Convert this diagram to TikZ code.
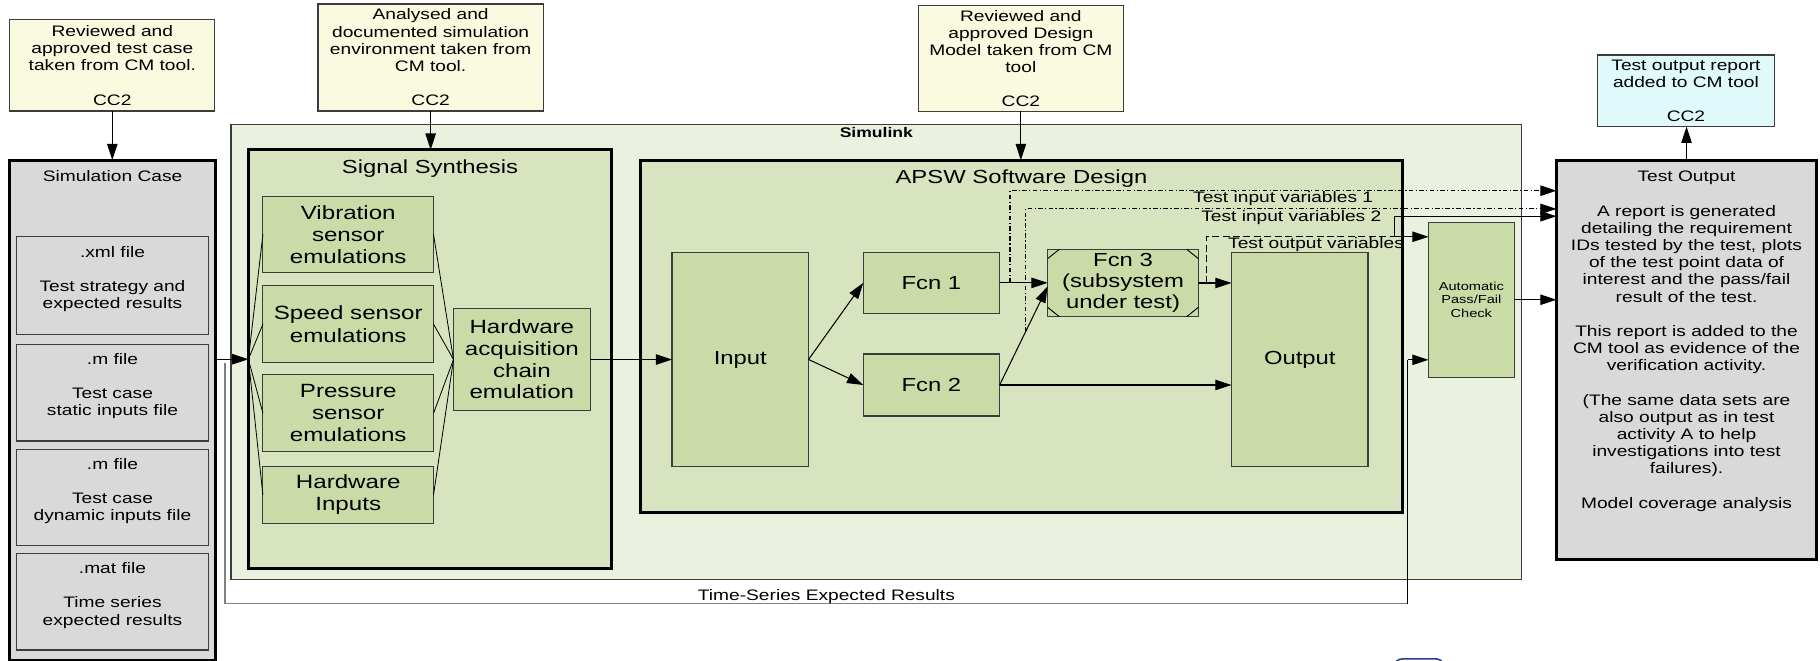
\documentclass[tikz,border=0pt]{standalone}
\usepackage{fontspec}
\setmainfont[FakeStretch=1.26]{Liberation Sans}
\usetikzlibrary{arrows.meta,calc}
\definecolor{cyel}{RGB}{250,250,224}
\definecolor{ccyan}{RGB}{224,250,252}
\definecolor{cgrey}{RGB}{217,217,217}
\definecolor{csim}{RGB}{234,241,222}
\definecolor{cgrp}{RGB}{216,228,192}
\definecolor{cblk}{RGB}{203,219,168}
\definecolor{cedge}{RGB}{60,60,60}
\definecolor{cts}{RGB}{128,128,128}
\definecolor{cblue}{RGB}{40,60,140}
\begin{document}
\begin{tikzpicture}[x=1pt,y=-1pt,
  every node/.style={inner sep=0pt,outer sep=0pt,align=center,text=black},
  txt/.style={font=\fontsize{13.1}{14.8}\selectfont},
  btxt/.style={font=\fontsize{16.3}{19}\selectfont},
  stxt/.style={font=\fontsize{16.5}{19.2}\selectfont},
  ftxt/.style={font=\fontsize{16.3}{18.2}\selectfont},
  tinytxt/.style={font=\fontsize{10}{11.3}\selectfont},
  simtxt/.style={font=\fontsize{12}{14}\selectfont\bfseries},
  sz/.style 2 args={minimum width=#1pt,minimum height=#2pt},
  thinbox/.style={draw=cedge,line width=1pt},
  thickbox/.style={draw=black,line width=2.6pt},
  topbox/.style={thinbox,fill=cyel,txt},
  cmbox/.style={thinbox,fill=ccyan,txt},
  greybox/.style={thickbox,fill=cgrey},
  filebox/.style={thinbox,fill=cgrey},
  simbox/.style={draw=cedge,line width=1pt,fill=csim},
  grpbox/.style={thickbox,fill=cgrp},
  blk/.style={thinbox,fill=cblk},
  conn/.style={draw=black,line width=0.9pt},
  arr/.style={conn,-{Triangle[length=14pt,width=9pt]}},
  dashdot/.style={line width=0.9pt,dash pattern=on 4pt off 2pt on 1pt off 2pt},
  dashln/.style={line width=0.9pt,dash pattern=on 6pt off 3pt},
  tsline/.style={draw=cts,line width=1.3pt},
  cornerln/.style={draw=black,line width=0.8pt},
]
\useasboundingbox (0,0) rectangle (1568,569);

% ---------- top boxes ----------
\node[topbox,sz={176.5}{79}] (boxA) at (96.75,56.2)
  {Reviewed and\\approved test case\\taken from CM tool.\\ \\CC2};
\node[topbox,sz={194}{92.3}] (boxB) at (371,49.55)
  {Analysed and\\documented simulation\\environment taken from\\CM tool.\\ \\CC2};
\node[topbox,sz={177}{91}] (boxC) at (879.5,50.5)
  {Reviewed and\\approved Design\\Model taken from CM\\tool\\ \\CC2};
\node[cmbox,sz={153}{61.8}] (boxD) at (1452.5,78.3)
  {Test output report\\added to CM tool\\ \\CC2};

% ---------- simulation case ----------
\node[greybox,sz={177.2}{430.7}] (simcase) at (97.1,353.35) {};
\node[txt] (simcaset) at (97,152) {Simulation Case};
\node[filebox,sz={165.2}{84}] (xml) at (96.9,246) {};
\node[txt] (xmlt) at ($(xml.center)+(0,-5.5)$) {.xml file\\ \\Test strategy and\\expected results};
\node[filebox,sz={165.2}{83.5}] (mstat) at (96.9,338.25) {};
\node[txt] (mstatt) at ($(mstat.center)+(0,-5.5)$) {.m file\\ \\Test case\\static inputs file};
\node[filebox,sz={165.2}{83}] (mdyn) at (96.9,428.5) {};
\node[txt] (mdynt) at ($(mdyn.center)+(0,-5.5)$) {.m file\\ \\Test case\\dynamic inputs file};
\node[filebox,sz={165.2}{83}] (mat) at (96.9,518.5) {};
\node[txt] (matt) at ($(mat.center)+(0,-5.5)$) {.mat file\\ \\Time series\\expected results};

% ---------- simulink ----------
\node[simbox,sz={1112}{392}] (simulink) at (755,303) {};
\node[simtxt] (simt) at (755,114.5) {Simulink};

% signal synthesis
\node[grpbox,sz={313}{361}] (sigsyn) at (370.5,309.5) {};
\node[btxt] (sigsynt) at (370.5,145) {Signal Synthesis};
\node[blk,stxt,sz={147}{66}] (vib) at (300,202) {Vibration\\sensor\\emulations};
\node[blk,stxt,sz={147}{66.5}] (speed) at (300,279.25) {Speed sensor\\emulations};
\node[blk,stxt,sz={147}{66}] (press) at (300,356) {Pressure\\sensor\\emulations};
\node[blk,stxt,sz={147}{48.7}] (hwin) at (300,426.35) {Hardware\\Inputs};
\node[blk,font=\fontsize{16.5}{18.7}\selectfont,sz={117.8}{88.1}] (hwacq) at (449.6,309.75)
  {Hardware\\acquisition\\chain\\emulation};

% APSW
\node[grpbox,sz={656}{303.7}] (apsw) at (880,289.85) {};
\node[btxt] (apswt) at (880,153.5) {APSW Software Design};
\node[blk,btxt,sz={117.6}{184.6}] (input) at (637.8,309.7) {Input};
\node[blk,btxt,sz={117.5}{52.6}] (fcn1) at (802.45,243.7) {Fcn 1};
\node[blk,btxt,sz={117.5}{53.4}] (fcn2) at (802.45,331.7) {Fcn 2};
\node[blk,ftxt,sz={129.8}{58}] (fcn3) at (967.5,243.8) {Fcn 3\\(subsystem\\under test)};
\node[blk,btxt,sz={117.6}{184.6}] (output) at (1119.8,309.7) {Output};
\draw[cornerln] ($(fcn3.north west)+(0,8)$) -- ($(fcn3.north west)+(10,0)$);
\draw[cornerln] ($(fcn3.north east)+(0,8)$) -- ($(fcn3.north east)+(-10,0)$);
\draw[cornerln] ($(fcn3.south west)+(0,-8)$) -- ($(fcn3.south west)+(10,0)$);
\draw[cornerln] ($(fcn3.south east)+(0,-8)$) -- ($(fcn3.south east)+(-10,0)$);

% pass/fail
\node[blk,tinytxt,sz={73.8}{133.3}] (passfail) at (1267.6,258.25) {Automatic\\Pass/Fail\\Check};

% test output
\node[greybox,sz={224}{344}] (testout) at (1453,310) {};
\node[txt] (testoutt) at (1453,294)
  {Test Output\\ \\A report is generated\\detailing the requirement\\IDs tested by the test, plots\\of the test point data of\\interest and the pass/fail\\result of the test.\\ \\This report is added to the\\CM tool as evidence of the\\verification activity.\\ \\(The same data sets are\\also output as in test\\activity A to help\\investigations into test\\failures).\\ \\Model coverage analysis};

% ---------- connectors ----------
\draw[arr] (boxA.south) -- (boxA.south |- simcase.north);
\draw[arr] (boxB.south) -- (boxB.south |- sigsyn.north);
\draw[arr] (boxC.south) -- (boxC.south |- apsw.north);
\draw[arr] (testout.north) -- (testout.north |- boxD.south);

\draw[arr] (simcase.east |- sigsyn.west) -- (sigsyn.west);
\foreach \n in {vib,speed,press,hwin}{
  \draw[conn,line width=0.7pt] (sigsyn.west) -- (\n.west);
  \draw[conn,line width=0.7pt] (\n.east) -- (hwacq.west);
}
\draw[arr] (hwacq.east) -- (hwacq.east -| input.west);
\draw[arr] (input.east) -- (fcn1.west);
\draw[arr] (input.east) -- (fcn2.west);
\draw[arr] (fcn1.east) -- coordinate[pos=0.216] (b1) (fcn1.east -| fcn3.west);
\draw[arr] (fcn2.east) -- coordinate[pos=0.537] (b2) ($(fcn3.west)+(0,3)$);
\draw[arr] (fcn3.east) -- coordinate[pos=0.233] (b3) (fcn3.east -| output.west);
\draw[arr] (fcn2.east) -- (fcn2.east -| output.west);
\draw[arr] (passfail.east) -- (passfail.east -| testout.west);

% test variables
\coordinate (v1) at (1300,164.3);
\coordinate (v2) at (1300,180);
\coordinate (cj) at (1201,204);
\coordinate (cu) at (1201,186.3);
\draw[dashdot,-{Triangle[length=14pt,width=9pt]}] (b1) |- (testout.west |- v1);
\draw[dashdot,-{Triangle[length=14pt,width=9pt]}] (b2) |- (testout.west |- v2);
\draw[dashln] (b3) |- (cj);
\draw[arr] (cj) -- (cj -| passfail.west);
\draw[arr] (cj) -- (cu) -- (cu -| testout.west);
\node[txt,anchor=east] (tiv1) at (1183,171.5) {Test input variables 1};
\node[txt,anchor=east] (tiv2) at (1190,187.5) {Test input variables 2};
\node[txt,anchor=east] (tov) at (1209.5,211) {Test output variables};

% time series
\coordinate (ts0) at (193.8,313);
\coordinate (ts2) at (1213,520);
\coordinate (ts1) at (1213,310);
\draw[tsline] (ts0) |- (ts2);
\draw[conn] (ts2) -- (ts1);
\draw[arr] (ts1) -- (ts1 -| passfail.west);
\node[txt] (tslab) at (712,514) {Time-Series Expected Results};

% clipped artefact at bottom
\draw[cblue,line width=1.3pt] (1202,571) .. controls (1204,567.8) and (1207,567.6) .. (1211,567.6)
  -- (1234,567.6) .. controls (1239,567.6) and (1241,567.8) .. (1243,571);
\end{tikzpicture}
\end{document}
